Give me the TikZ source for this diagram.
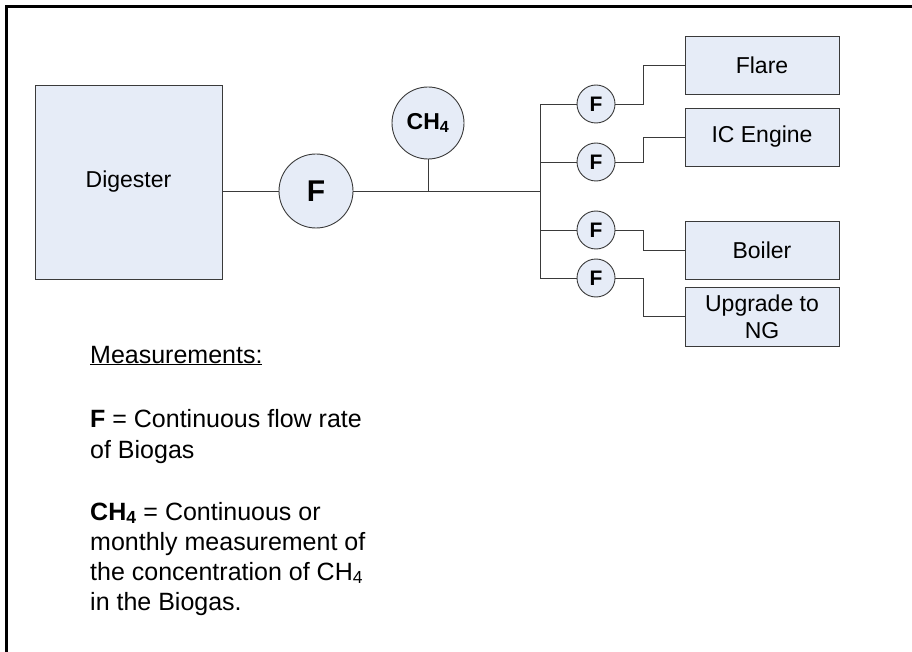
\documentclass[tikz,border=0pt]{standalone}
\usepackage{fontspec}
\setmainfont{Liberation Sans}
\definecolor{boxfill}{HTML}{E6ECF7}
\definecolor{edge}{HTML}{3A3A3A}
\begin{document}
\begin{tikzpicture}[x=1pt,y=-1pt,
  unit/.style={draw=edge,fill=boxfill,line width=0.9pt,inner sep=0pt,align=center,font=\fontsize{23}{27}\selectfont},
  meter/.style={circle,draw=edge,fill=boxfill,line width=0.9pt,inner sep=0pt,font=\bfseries},
  pipe/.style={draw=edge,line width=0.9pt},
  txt/.style={anchor=base west,inner sep=0pt,font=\fontsize{25}{28}\selectfont}]
\useasboundingbox (0,0) rectangle (912,652);
\clip (0,0) rectangle (912,652);
\draw[line width=3pt] (6,7) rectangle (916,660);
% units
\node[unit,minimum width=187pt,minimum height=194pt] (dig) at (128.5,182) {Digester};
\node[unit,minimum width=154pt,minimum height=58pt] (flare) at (762,65) {Flare};
\node[unit,minimum width=154pt,minimum height=58pt] (ice) at (762,137) {IC Engine};
\node[unit,minimum width=154pt,minimum height=58pt] (boil) at (762,250) {Boiler};
\node[unit,minimum width=154pt,minimum height=59pt] (ng) at (762,316.5) {Upgrade to\\NG};
% meters
\node[meter,minimum size=74pt,font=\bfseries\fontsize{30}{32}\selectfont] (fm) at (316,191) {F};
\node[meter,minimum size=72pt,font=\bfseries\fontsize{23}{26}\selectfont] (ch) at (428,123) {CH\textsubscript{4}};
\node[meter,minimum size=38pt,font=\bfseries\fontsize{21}{23}\selectfont] (f1) at (596,104) {F};
\node[meter,minimum size=38pt,font=\bfseries\fontsize{21}{23}\selectfont] (f2) at (596,162) {F};
\node[meter,minimum size=38pt,font=\bfseries\fontsize{21}{23}\selectfont] (f3) at (596,230) {F};
\node[meter,minimum size=38pt,font=\bfseries\fontsize{21}{23}\selectfont] (f4) at (596,278) {F};
% coordinates
\coordinate (bus) at (540,191);
\coordinate (tap) at (428,191);
% pipes
\draw[pipe] (dig.east |- fm) -- (fm.west);
\draw[pipe] (fm.east) -- (bus);
\draw[pipe] (ch.south) -- (tap);
\draw[pipe] (f1.west) -| (bus |- f1) -- (bus |- f4) -- (f4.west);
\draw[pipe] (bus |- f2) -- (f2.west);
\draw[pipe] (bus |- f3) -- (f3.west);
\draw[pipe] (f1.east) -- (643,104) |- (flare.west);
\draw[pipe] (f2.east) -- (643,162) |- (ice.west);
\draw[pipe] (f3.east) -- (643,230) |- (boil.west);
\draw[pipe] (f4.east) -- (643,278) |- (ng.west);
% legend
\node[txt] (t1) at (90,363) {\underline{Measurements:}};
\node[txt] (t2) at (90,427) {\textbf{F} = Continuous flow rate};
\node[txt] (t3) at (90,458) {of Biogas};
\node[txt] (t4) at (90,520) {\textbf{CH\textsubscript{4}} = Continuous or};
\node[txt] (t5) at (90,550) {monthly measurement of};
\node[txt] (t6) at (90,580) {the concentration of CH\textsubscript{4}};
\node[txt] (t7) at (90,610) {in the Biogas.};
\end{tikzpicture}
\end{document}
